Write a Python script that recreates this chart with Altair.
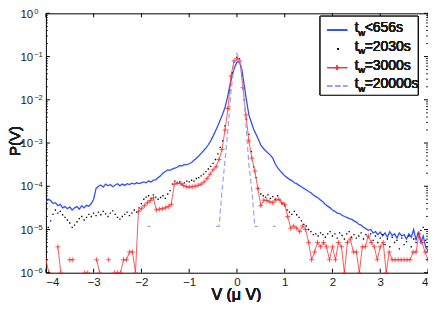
import altair as alt
import numpy as np
import pandas as pd

# ---------------- data (log10 of P(V)) ----------------
LOG_P_BLUE = [
    -4.36, -4.30, -4.33, -4.40, -4.38, -4.45, -4.42, -4.50, -4.47, -4.52,
    -4.48, -4.55, -4.50, -4.47, -4.53, -4.45, -4.50, -4.44, -4.46, -4.40,
    -4.30, -4.05, -4.00, -3.97, -4.02, -3.95, -3.99, -3.96, -4.01, -3.97,
    -3.94, -3.99, -3.95, -3.98, -3.94, -3.96, -3.93, -3.95, -3.92, -3.94,
    -3.92, -3.90, -3.92, -3.88, -3.90, -3.86, -3.85, -3.80, -3.76, -3.70,
    -3.66, -3.62, -3.63, -3.60, -3.58, -3.56, -3.52, -3.53, -3.50, -3.50,
    -3.48, -3.45, -3.40, -3.35, -3.30, -3.24, -3.18, -3.12, -3.04, -2.95,
    -2.84, -2.72, -2.60, -2.47, -2.33, -2.18, -1.95, -1.68, -1.44, -1.25,
    -1.13, -1.12, -1.28, -1.65, -2.02, -2.35, -2.52, -2.68, -2.80, -2.92,
    -3.05, -3.12, -3.18, -3.23, -3.28, -3.35, -3.48, -3.57, -3.64, -3.70,
    -3.76, -3.80, -3.84, -3.87, -3.92, -3.94, -3.98, -4.01, -4.05, -4.08,
    -4.12, -4.15, -4.20, -4.24, -4.27, -4.32, -4.36, -4.42, -4.46, -4.50,
    -4.55, -4.58, -4.62, -4.63, -4.67, -4.70, -4.72, -4.75, -4.76, -4.80,
    -4.83, -4.88, -4.90, -4.95, -4.98, -5.02, -5.00, -5.08, -5.05, -5.12,
    -5.06, -5.15, -5.08, -5.18, -5.05, -5.14, -5.10, -5.20, -5.08, -5.15,
    -5.12, -5.22, -5.10, -5.18, -5.00, -5.25, -5.05, -5.30, -5.15, -5.40,
    -5.50,
]

LOG_P_BLACK = [
    -5.10, -4.95, -4.80, -4.65, -4.55, -4.62, -4.58, -4.66, -4.72, -4.78,
    -4.85, -4.95, -4.90, -4.82, -4.75, -4.70, -4.78, -4.72, -4.65, -4.70,
    -4.62, -4.68, -4.60, -4.66, -4.58, -4.64, -4.70, -4.62, -4.57, -4.65,
    -4.72, -4.76, -4.70, -4.65, -4.60, -4.68, -4.62, -4.55, -4.60, -4.50,
    -4.40, -4.30, -4.25, -4.22, -4.28, -4.20, -4.25, -4.30, -4.26, -4.22,
    -4.28, -4.18, -4.10, -3.95, -3.88, -3.92, -3.90, -3.95, -3.92, -3.88,
    -3.90, -3.86, -3.88, -3.82, -3.80, -3.76, -3.72, -3.66, -3.60, -3.54,
    -3.47, -3.38, -3.25, -3.10, -2.95, -2.60, -2.20, -1.78, -1.38, -1.12,
    -1.02, -1.05, -1.45, -2.00, -2.45, -2.80, -3.20, -3.55, -3.80, -4.05,
    -4.18, -4.22, -4.25, -4.20, -4.28, -4.24, -4.30, -4.22, -4.32, -4.40,
    -4.45, -4.55, -4.60, -4.65, -4.58, -4.66, -4.72, -4.80, -4.88, -4.92,
    -5.00, -5.05, -5.12, -5.10, -5.15, -5.08, -5.12, -5.18, -5.10, -5.05,
    -5.15, -5.10, -5.20, -5.08, -5.14, -5.22, -5.10, -5.05, -5.18, -5.12,
    -5.20, -5.15, -5.08, -5.22, -5.12, -5.18, -5.10, -5.25, -5.15, -5.30,
    -5.20, -5.12, -5.35, -5.22, -5.40, -5.18, -5.30, -5.25, -5.45, -5.20,
    -5.35, -5.28, -5.15, -5.40, -5.22, -5.30, -5.10, -5.02, -4.95, -5.25,
    -5.40,
]

# red series on a 0.0625 grid, None = empty bin (line breaks)
LOG_P_RED = [
    -5.70, -6.00, None, None, -5.40, -6.00, None, None, -5.70, -5.70,
    None, None, None, -6.00, -6.00, None, None, -5.70, -6.00, None,
    None, -5.70, None, -6.00, -6.00, -6.00, -5.70, -5.70, -5.52, -5.52,
    -6.00,
    -4.58, -4.52, -4.45, -4.38, -4.33, -4.27, -4.55, -4.53, -4.52, -4.50,
    -4.47, -4.42, -3.95, -3.93, -3.93, -3.98, -4.01, -4.02, -4.01, -4.00,
    -3.98, -3.95, -3.90, -3.82, -3.72, -3.62, -3.55, -3.38, -3.15, -2.70,
    -2.20, -1.45, -1.10, -1.05, -1.10, -1.72, -2.35, -2.95, -3.35, -3.65,
    -4.05, -4.45, -4.32, -4.33, -4.36, -4.38, -4.32, -4.30, -4.38, -4.42,
    -4.70, -4.97, -4.92, -4.97, -5.05, -4.92, -5.00, -5.30, -5.70, -5.52,
    -5.30, -5.40, -5.30, -5.40, -5.70, -5.40, -5.70, -5.30, -5.40, -6.00,
    -5.30, -5.22, -5.52, -5.52, -6.00, -5.40, -5.40, -5.15, -5.30, -5.40,
    -5.70, -5.40, -5.30, -6.00, -5.52, -5.70, -5.70, -5.70, -5.70, -5.70,
    -5.70, -5.70, -5.52, -5.52, -5.10, -5.30, -5.52, -5.70,
]

V_DASH = [-1.875, -1.8125, -1.75, -0.5, -0.4375, -0.375, -0.3125, -0.25, -0.1875,
          -0.125, -0.0625, 0.0, 0.0625, 0.125, 0.1875, 0.25, 0.3125, 0.375,
          0.4375, 0.5, 0.75, 0.8125, 0.875]
LOG_P_DASH = [-4.93, -4.93, None, None, -4.93, -4.93, -4.10, -3.40, -2.68,
              -1.82, -1.18, -0.93, -1.10, -1.65, -2.55, -3.50, -4.10, -4.93,
              -4.93, None, -4.93, -4.93, None]

LEGEND_SUFFIX = ["<656s", "=2030s", "=3000s", "=20000s"]
X_TICKS = [-4, -3, -2, -1, 0, 1, 2, 3, 4]
Y_DECADES = [1e-6, 1e-5, 1e-4, 1e-3, 1e-2, 1e-1, 1e0]
Y_EXPONENTS = ["\u22126", "\u22125", "\u22124", "\u22123", "\u22122", "\u22121", "0"]

# ---------------- styling ----------------
W, H = 383, 260
FONT = "Liberation Sans"
TXT = "#1a1a1a"
BLUE = "#3050ff"
RED = "#ff3030"
DASHC = "#98a0ff"
PLUS = "M-1,0L1,0M0,-1L0,1"


def series_frame(v, logp):
    df = pd.DataFrame({"V": np.asarray(v, dtype=float),
                       "L": pd.Series(logp, dtype="float64")})
    df["seg"] = df["L"].isna().cumsum()
    df = df.dropna().copy()
    df["P"] = 10.0 ** df["L"]
    return df


df_blue = series_frame(np.linspace(-4, 4, len(LOG_P_BLUE)), LOG_P_BLUE)
df_black = series_frame(np.linspace(-4, 4, len(LOG_P_BLACK)), LOG_P_BLACK)
df_red = series_frame(np.linspace(-4, 4, len(LOG_P_RED)), LOG_P_RED)
df_dash = series_frame(V_DASH, LOG_P_DASH)

xs = alt.Scale(domain=[-4, 4], nice=False, zero=False)
ys = alt.Scale(type="log", domain=[1e-6, 1], nice=False)

x_axis = alt.Axis(values=X_TICKS, ticks=False, domain=False, grid=False,
                  labelFont=FONT, labelFontSize=11.5, labelColor=TXT,
                  labelPadding=3.5, title=None,
                  labelExpr="datum.value < 0 ? '\u2212' + abs(datum.value) : '' + datum.value")

X = alt.X("V:Q", scale=xs, axis=x_axis)
Y = alt.Y("P:Q", scale=ys, axis=None)

blue = alt.Chart(df_blue).mark_line(color=BLUE, strokeWidth=1.3, clip=True).encode(
    x=X, y=Y, detail="seg:N")
black = alt.Chart(df_black).mark_square(color="black", size=1.8, opacity=1, clip=True).encode(
    x=X, y=Y)
red_line = alt.Chart(df_red).mark_line(color=RED, strokeWidth=0.8, clip=True).encode(
    x=X, y=Y, detail="seg:N")
red_pts = alt.Chart(df_red).mark_point(shape=PLUS, size=24, filled=False, color=RED,
                                       strokeWidth=0.8, opacity=1, clip=True).encode(x=X, y=Y)
dash = alt.Chart(df_dash).mark_line(color=DASHC, strokeWidth=1.2, strokeDash=[5, 3],
                                    clip=True).encode(x=X, y=Y, detail="seg:N")

# inward ticks
df_xt = pd.DataFrame({"V": X_TICKS})
xt_bot = alt.Chart(df_xt).mark_rule(color="black", strokeWidth=1).encode(
    x=X, y=alt.value(H), y2=alt.value(H - 4))
xt_top = alt.Chart(df_xt).mark_rule(color="black", strokeWidth=1).encode(
    x=X, y=alt.value(0), y2=alt.value(4))
df_yt = pd.DataFrame({"P": Y_DECADES, "exp": Y_EXPONENTS})
minor = [k * d for d in Y_DECADES[:-1] for k in range(2, 10)]
df_ym = pd.DataFrame({"P": minor})
yt_l = alt.Chart(df_yt).mark_rule(color="black", strokeWidth=1).encode(
    y=Y, x=alt.value(0), x2=alt.value(4))
yt_r = alt.Chart(df_yt).mark_rule(color="black", strokeWidth=1).encode(
    y=Y, x=alt.value(W), x2=alt.value(W - 4))
ym_l = alt.Chart(df_ym).mark_rule(color="black", strokeWidth=0.8).encode(
    y=Y, x=alt.value(0), x2=alt.value(2))
ym_r = alt.Chart(df_ym).mark_rule(color="black", strokeWidth=0.8).encode(
    y=Y, x=alt.value(W), x2=alt.value(W - 2))

# y tick labels 10^k
ylab_base = alt.Chart(df_yt).mark_text(align="right", baseline="middle", font=FONT,
                                       fontSize=11.5, color=TXT, dy=1.2).encode(
    y=Y, x=alt.value(-12.7), text=alt.value("10"))
ylab_exp = alt.Chart(df_yt).mark_text(align="left", baseline="middle", font=FONT,
                                      fontSize=7.5, color=TXT, dy=-1.5).encode(
    y=Y, x=alt.value(-11.7), text="exp:N")

# axis titles
ytitle = alt.Chart(df_yt).mark_text(angle=270, font=FONT, fontSize=15, color=TXT,
                                    baseline="middle", align="center").encode(
    x=alt.value(-30.5), y=alt.value(128), text=alt.value("P(V)"))
xtitle = alt.Chart(df_yt).mark_text(font=FONT, fontSize=16, color=TXT,
                                    baseline="alphabetic", align="center").encode(
    x=alt.value(191), y=alt.value(H + 27.5), text=alt.value("V (\u03bc V)"))

# legend
LX0, LX1, LY0, LY1 = 275, 373, 3, 82
ROWS = [17, 35.7, 54.4, 73]
leg = [alt.Chart(df_yt).mark_rect(fill="white", stroke="black", strokeWidth=0.8).encode(
    x=alt.value(LX0), x2=alt.value(LX1), y=alt.value(LY0), y2=alt.value(LY1))]
leg.append(alt.Chart(df_yt).mark_rule(color=BLUE, strokeWidth=1.3).encode(
    x=alt.value(282), x2=alt.value(302), y=alt.value(ROWS[0])))
leg.append(alt.Chart(df_yt).mark_square(color="black", size=1.8, opacity=1).encode(
    x=alt.value(293), y=alt.value(ROWS[1])))
leg.append(alt.Chart(df_yt).mark_rule(color=RED, strokeWidth=0.8).encode(
    x=alt.value(282), x2=alt.value(302), y=alt.value(ROWS[2])))
leg.append(alt.Chart(df_yt).mark_point(shape=PLUS, size=24, filled=False, color=RED,
                                       strokeWidth=0.8, opacity=1).encode(
    x=alt.value(292), y=alt.value(ROWS[2])))
leg.append(alt.Chart(df_yt).mark_rule(color=DASHC, strokeWidth=1.2, strokeDash=[5, 3]).encode(
    x=alt.value(282), x2=alt.value(302), y=alt.value(ROWS[3])))
for r, suf in zip(ROWS, LEGEND_SUFFIX):
    leg.append(alt.Chart(df_yt).mark_text(align="left", baseline="alphabetic", font=FONT,
                                          fontSize=14, color=TXT).encode(
        x=alt.value(309.5), y=alt.value(r + 2), text=alt.value("t")))
    leg.append(alt.Chart(df_yt).mark_text(align="left", baseline="alphabetic", font=FONT,
                                          fontSize=9.5, color=TXT).encode(
        x=alt.value(313), y=alt.value(r + 5.5), text=alt.value("w")))
    leg.append(alt.Chart(df_yt).mark_text(align="left", baseline="alphabetic", font=FONT,
                                          fontSize=14, color=TXT).encode(
        x=alt.value(319.5), y=alt.value(r + 2), text=alt.value(suf)))

chart = alt.layer(
    blue, black, red_line, red_pts, dash,
    xt_bot, xt_top, yt_l, yt_r, ym_l, ym_r,
    ylab_base, ylab_exp, ytitle, xtitle, *leg
).properties(
    width=W, height=H,
    autosize=alt.AutoSizeParams(type="none"),
    padding={"left": 38, "top": 5, "right": 0, "bottom": 29},
    background="white",
).configure_view(stroke="black", strokeWidth=1)

chart.save("out.html", embed_options={"renderer": "svg", "actions": False})
